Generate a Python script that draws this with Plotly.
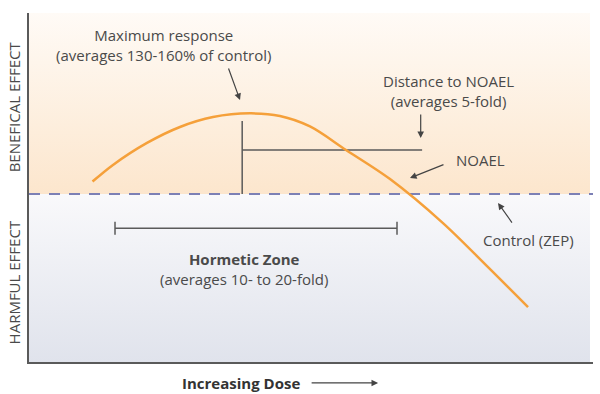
import plotly.graph_objects as go

# Dose-response (hormesis) curve
dose = [11.26, 14.89, 20.92, 26.77, 32.62, 39.18, 44.50, 49.82, 56.21,
        64.01, 73.40, 81.21, 88.48]
response = [107.4, 117.3, 130.4, 139.9, 145.8, 148.0, 146.4, 140.2, 126.2,
            108.9, 82.7, 57.1, 32.7]

control_level = 100
x_range = [0, 100]
y_range = [0, 207.74]

max_dose = 37.8          # dose at maximum response marker
max_marker_top = 143.5
noael_dose = 69.7
distance_level = 126.2
zone_start, zone_end = 15.25, 65.25
zone_level = 79.6
zone_tick = 3.9

TEXT = "#4a4a4a"
LINE = "#5a5a5a"
FONT = "Open Sans"

fig = go.Figure()

# background gradients
fig.add_trace(go.Scatter(
    x=[0, 99.47, 99.47, 0, 0], y=[control_level, control_level, 220, 220, control_level],
    fill="toself", mode="none", hoverinfo="skip", showlegend=False,
    fillgradient=dict(type="vertical", colorscale=[[0, "#fce6cd"], [1, "#fffdfb"]])))
fig.add_trace(go.Scatter(
    x=[0, 99.47, 99.47, 0, 0], y=[0, 0, control_level, control_level, 0],
    fill="toself", mode="none", hoverinfo="skip", showlegend=False,
    fillgradient=dict(type="vertical", colorscale=[[0, "#e0e3ec"], [1, "#f9f9fb"]])))

# control (ZEP) dashed line
fig.add_trace(go.Scatter(x=x_range, y=[control_level, control_level], mode="lines",
                         line=dict(color="#7c80b5", width=2, dash="11px,9px"),
                         hoverinfo="skip", showlegend=False))

# maximum response vertical marker and distance to NOAEL
fig.add_trace(go.Scatter(x=[max_dose, max_dose], y=[control_level, max_marker_top], mode="lines",
                         line=dict(color=LINE, width=1.5), showlegend=False, hoverinfo="skip"))
fig.add_trace(go.Scatter(x=[max_dose, noael_dose], y=[distance_level, distance_level], mode="lines",
                         line=dict(color=LINE, width=1.5), showlegend=False, hoverinfo="skip"))

# hormetic zone bracket
fig.add_trace(go.Scatter(
    x=[zone_start, zone_start, None, zone_start, zone_end, None, zone_end, zone_end],
    y=[zone_level - zone_tick, zone_level + zone_tick, None, zone_level, zone_level, None,
       zone_level - zone_tick, zone_level + zone_tick],
    mode="lines", line=dict(color=LINE, width=1.5), showlegend=False, hoverinfo="skip"))

# response curve
fig.add_trace(go.Scatter(x=dose, y=response, mode="lines", line_shape="spline",
                         line=dict(color="#f5a03a", width=2.5, smoothing=0.9), showlegend=False))

f = dict(family=FONT, size=15, color=TEXT)
C = dict(xanchor="center", yanchor="middle", showarrow=False)
ann = []
ann.append(dict(C, x=23.76, y=188.7, text="Maximum response<br>(averages 130-160% of control)", font=f))
ann.append(dict(C, x=74.38, y=161.6, text="Distance to NOAEL<br>(averages 5-fold)", font=f))
ann.append(dict(C, x=80.14, y=120.2, text="NOAEL", font=f))
ann.append(dict(C, x=88.48, y=72.6, text="Control (ZEP)", font=f))
ann.append(dict(C, x=38.12, y=55.65, text="<b>Hormetic Zone</b><br>(averages 10- to 20-fold)", font=f))
arrow = dict(text="", showarrow=True, arrowhead=2, arrowsize=1.1, arrowwidth=1.2,
             arrowcolor="#444444")
ann.append(dict(arrow, x=37.41, y=155.95, ax=-12, ay=-33))
ann.append(dict(arrow, x=69.45, y=133.3, ax=0, ay=-25))
ann.append(dict(arrow, x=67.55, y=109.5, ax=35, ay=-14))
ann.append(dict(arrow, x=83.16, y=94.6, ax=15, ay=21))

# axis titles
ann.append(dict(C, xref="paper", yref="paper", x=0.376, y=-0.06, text="<b>Increasing Dose</b>",
                font=dict(family=FONT, size=15, color="#333333")))
ann.append(dict(xref="paper", yref="paper", x=0.619, y=-0.06, text="", showarrow=True,
                arrowhead=2, arrowsize=1.1, arrowwidth=1.2, arrowcolor="#444444", ax=-68, ay=0))
ann.append(dict(C, xref="paper", yref="paper", x=-0.026, y=0.7307, text="BENEFICAL EFFECT",
                textangle=-90, font=f))
ann.append(dict(C, xref="paper", yref="paper", x=-0.026, y=0.229, text="HARMFUL EFFECT",
                textangle=-90, font=f))

fig.update_layout(
    width=600, height=394,
    margin=dict(l=29, r=7, t=13, b=32),
    paper_bgcolor="white", plot_bgcolor="white",
    annotations=ann,
    xaxis=dict(range=x_range, showgrid=False, zeroline=False, showticklabels=False,
               showline=True, linecolor="#5a5a5a", linewidth=1.5, fixedrange=True),
    yaxis=dict(range=y_range, showgrid=False, zeroline=False, showticklabels=False,
               showline=True, linecolor="#5a5a5a", linewidth=1.5, fixedrange=True),
)

fig.write_html("out.html", config={"displayModeBar": False},
               post_script="document.body.style.margin='0';")
